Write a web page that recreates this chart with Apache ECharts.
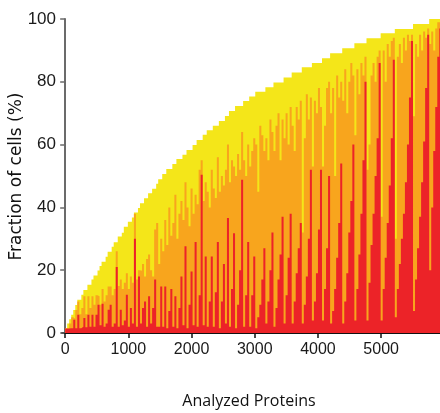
<!DOCTYPE html>
<html><head><meta charset="utf-8">
<script src="https://cdn.jsdelivr.net/npm/echarts@6/dist/echarts.min.js"></script>
<style>html,body{margin:0;padding:0;background:#fff}#c{width:440px;height:413px}</style>
</head><body><div id="c"></div>
<script>
// proteins per drawn column
const binSize = 32;
const xTicks = [0, 1000, 2000, 3000, 4000, 5000];
const yTicks = [0, 20, 40, 60, 80, 100];

// fraction of cells (%) – envelope (all categories)
const total = [
 1.4,3.0,4.4,5.8,7.3,8.9,10.6,10.6,12.2,13.7,13.7,15.4,15.4,17.0,18.3,18.3,19.9,
 21.3,22.7,22.7,24.3,25.9,25.9,27.5,28.9,28.9,30.7,30.7,31.9,33.8,33.8,35.4,35.4,36.8,38.4,38.4,39.8,41.3,41.3,42.9,42.9,44.5,44.5,45.9,45.9,47.5,
 49.0,49.0,50.6,50.6,52.2,52.2,52.2,53.8,53.8,55.4,55.4,55.4,56.8,56.8,58.3,58.3,58.3,59.9,59.9,61.5,61.5,61.5,63.1,63.1,64.6,64.6,64.6,66.0,66.0,66.0,67.5,67.5,67.5,69.1,69.1,70.7,70.7,70.7,72.3,72.3,72.3,72.3,73.9,73.9,73.9,75.3,75.3,75.3,
 76.8,76.8,76.8,76.8,76.8,78.3,78.3,78.3,78.3,79.8,79.8,79.8,79.8,79.8,81.4,81.4,81.4,81.4,83.0,83.0,83.0,83.0,83.0,84.6,84.6,84.6,84.6,84.6,86.0,86.0,86.0,86.0,86.0,87.5,87.5,87.5,87.5,89.1,89.1,89.1,89.1,89.1,89.1,90.7,90.7,90.7,90.7,90.7,90.7,
 92.3,92.3,92.3,92.3,92.3,92.3,93.9,93.9,93.9,93.9,93.9,93.9,93.9,95.5,95.5,95.5,95.5,95.5,95.5,95.5,96.8,96.8,96.8,96.8,96.8,96.8,96.8,96.8,96.8,98.4,98.4,98.4,98.4,98.4,98.4,98.4,98.4,100,100,100,100,100,100
];
// red + orange (%)
const redOrange = [
 1.4,1.4,3.0,5.0,4.5,7.3,10.0,6.0,8.0,11.7,6.0,11.7,8.0,11.7,9.0,12.0,11.7,
 9,14,10,12,14.8,14.8,12,14,26,15,17,14,16,19,14,18,16,38,17,20,19.8,22,18,23.6,25,20,18,33,35,
 22,30,26,36,28,40,31,35,44,30,38,42,36,48,40,34,46,38,44,41,52,55,42,48,45,40,52,46,43,56,45,50,47,52,60,48,55,53,50,57,52,64,55,50,60,53,58,62,
 60,45,66,63,58,62,55,68,64,58,66,70,55,68,62,70,60,72,66,58,72,68,74,32,62,76,68,75,53,74,70,78,72,53,66,78,80,70,78,50,82,75,80,74,84,70,80,86,82,
 63,84,76,86,82,88,52,60,82,86,80,88,90,37,90,80,92,88,93,94,30,88,92,86,94,90,95,93,95,69,92,88,95,90,96,94,97,92,96,90,97,99,99
];
// red (%)
const red = [
 1.4,1.4,1.5,1.5,4.2,1.5,5.8,1.5,2.0,4.8,1.8,5.8,2.0,5.8,2.0,5.8,9.0,
 2.5,9.3,2,3,7.4,9.0,2,3,21,2,7.4,2.5,4,12.2,2,8,3,30,2,18,3,8,10,2,11.7,3,8,17,2,
 2,14.8,2,14.8,1.5,7,14,2,11.7,1.5,8,18,2.5,27.6,1.5,9,19.6,2.5,29,2,12,50.4,2.5,24.4,2,10,24.4,2,13,29,1.5,10,22,3,36.6,2,14,31.8,1.5,9,20,48.8,2,12,29,2,12,24.4,
 1.5,5,9,17,27,3,10,20,32,2,8,17,25,37,3,12,24,38,3,10,19,27,35,3,9,18,30,52,4,10,19,33,52,4,14,27,50,3,7,14,24,35,54,3,10,19,32,42,60,
 4,14,25,38,55,80,4,16,28,38,50,62,86,4,14,24,35,47,62,87,5,14,22,30,38,48,60,75,93,7,17,27,37,48,61,78,95,20,40,58,72,88,97
];

const COLORS = {yellow:'#F4E619', orange:'#F8A51D', red:'#EC2328'};
const toSteps = arr => {
  const d = arr.map((v, i) => [i * binSize, v]);
  d.push([arr.length * binSize, arr[arr.length - 1]]);
  return d;
};
const layer = (name, arr, color, z) => ({
  name, type: 'line', step: 'end', data: toSteps(arr), symbol: 'none', showSymbol: false,
  lineStyle: {width: 0}, areaStyle: {color, opacity: 1}, itemStyle: {color},
  z, silent: true, animation: false, clip: true
});
const labelFont = 'Liberation Sans, Arial, sans-serif';
const chart = echarts.init(document.getElementById('c'), null, {renderer: 'canvas'});
chart.setOption({
  animation: false,
  backgroundColor: '#fff',
  grid: {left: 62, top: 19, width: 378, height: 314, containLabel: false},
  xAxis: {
    type: 'value', min: -50, max: 5931,
    axisLine: {show: true, lineStyle: {color: '#111', width: 2}},
    axisTick: {show: true, customValues: xTicks, length: 5, lineStyle: {color: '#111', width: 1.5}},
    axisLabel: {customValues: xTicks, formatter: v => String(v), margin: 9, fontSize: 16, color: '#1a1a1a', fontFamily: labelFont},
    splitLine: {show: false}
  },
  yAxis: {
    type: 'value', min: 0, max: 100, interval: 20,
    axisLine: {show: true, lineStyle: {color: '#6b6b6b', width: 2}},
    axisTick: {show: true, length: 5, lineStyle: {color: '#6b6b6b', width: 1.5}},
    axisLabel: {margin: 6, fontSize: 17, color: '#1a1a1a', fontFamily: labelFont},
    splitLine: {show: false}
  },
  series: [
    layer('total', total, COLORS.yellow, 2),
    layer('redOrange', redOrange, COLORS.orange, 3),
    layer('red', red, COLORS.red, 4)
  ],
  graphic: [
    {type: 'text', x: 16.5, y: 176.5, rotation: Math.PI / 2,
     style: {text: 'Fraction of cells (%)', fontSize: 17, fontFamily: 'DejaVu Sans, sans-serif', fill: '#111', align: 'center', verticalAlign: 'middle'}},
    {type: 'text', x: 249, y: 401,
     style: {text: 'Analyzed Proteins', fontSize: 16, fontFamily: 'Open Sans, sans-serif', fill: '#111', align: 'center', verticalAlign: 'middle'}}
  ]
});
</script></body></html>
